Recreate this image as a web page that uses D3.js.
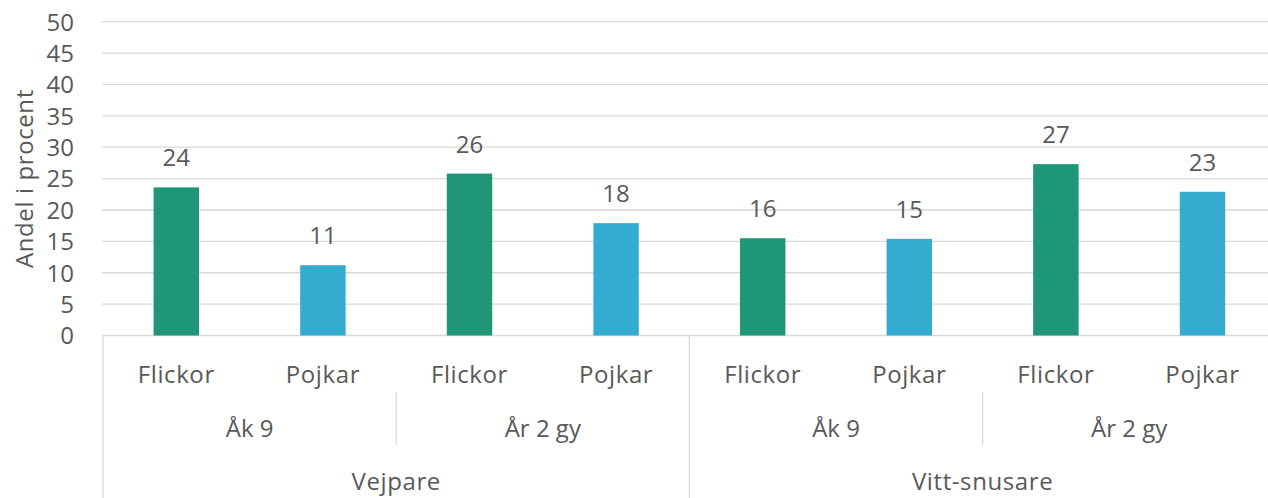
<!DOCTYPE html>
<html><head><meta charset="utf-8">
<script src="https://cdn.jsdelivr.net/npm/d3@7"></script>
<style>
html,body{margin:0;padding:0;background:#fff;}
svg{display:block;font-family:"Open Sans",sans-serif;}
</style></head>
<body><svg id="c" width="1268" height="498"></svg>
<script>
const genders = ["Flickor","Pojkar","Flickor","Pojkar","Flickor","Pojkar","Flickor","Pojkar"];
const grades = ["Åk 9","År 2 gy","Åk 9","År 2 gy"];
const groups = ["Vejpare","Vitt-snusare"];
const values = [23.6, 11.2, 25.8, 17.9, 15.5, 15.4, 27.3, 22.9];
const labels = ["24","11","26","18","16","15","27","23"];
const yTicks = [0,5,10,15,20,25,30,35,40,45,50];
const yTitle = "Andel i procent";
const colors = {Flickor:"#1f9777", Pojkar:"#34acd0"};

const svg = d3.select("#c");
const plotLeft = 103, step = 146.6, n = genders.length;
const plotRight = plotLeft + step*n;
const plotTop = 21.7, plotBase = 335.5;
const textColor = "#595959", gridColor = "#d9d9d9";
const fs = 24, ls = "0.6px";

const y = d3.scaleLinear().domain([0,50]).range([plotBase, plotTop]);
const idx = d3.range(n);
const x = d3.scaleBand().domain(idx).range([plotLeft,plotRight]).paddingInner(0.69).paddingOuter(0.345);
const xs = d3.scaleBand().domain(idx).range([plotLeft,plotRight]).padding(0);

// gridlines
svg.append("g").selectAll("line").data(yTicks).join("line")
  .attr("x1", plotLeft-1).attr("x2", 1268)
  .attr("y1", d=>y(d)).attr("y2", d=>y(d))
  .attr("stroke", gridColor).attr("stroke-width",1.3);

// y tick labels
svg.append("g").selectAll("text").data(yTicks).join("text")
  .attr("x", 74).attr("y", d=>y(d)).attr("dy","0.37em")
  .attr("text-anchor","end").attr("font-size",fs).attr("fill",textColor)
  .text(d=>d);

// y title
svg.append("text")
  .attr("transform", `translate(33,${(plotTop+plotBase)/2}) rotate(-90)`)
  .attr("text-anchor","middle").attr("font-size",fs).attr("fill",textColor)
  .attr("letter-spacing", ls)
  .text(yTitle);

// bars
svg.append("g").selectAll("rect").data(idx).join("rect")
  .attr("x", i=>x(i)).attr("width", x.bandwidth())
  .attr("y", i=>y(values[i])).attr("height", i=>plotBase - y(values[i]))
  .attr("fill", i=>colors[genders[i]]);

// value labels
svg.append("g").selectAll("text").data(idx).join("text")
  .attr("x", i=>x(i)+x.bandwidth()/2).attr("y", i=>y(values[i]) - 21)
  .attr("text-anchor","middle").attr("font-size",fs).attr("fill",textColor)
  .text(i=>labels[i]);

// category axis lines
const cat = svg.append("g").attr("stroke", gridColor).attr("stroke-width",1.3);
[0, n/2, n].forEach(k=>{
  const xx = plotLeft + k*step;
  cat.append("line").attr("x1",xx).attr("x2",xx).attr("y1",plotBase).attr("y2",498);
});
[2, 6].forEach(k=>{
  const xx = plotLeft + k*step;
  cat.append("line").attr("x1",xx).attr("x2",xx).attr("y1",392).attr("y2",445);
});

// level 1 labels
svg.append("g").selectAll("text").data(idx).join("text")
  .attr("x", i=>xs(i)+xs.bandwidth()/2).attr("y", 383)
  .attr("text-anchor","middle").attr("font-size",fs).attr("fill",textColor)
  .attr("letter-spacing", ls)
  .text(i=>genders[i]);
// level 2 labels
svg.append("g").selectAll("text").data(grades).join("text")
  .attr("x", (d,i)=>plotLeft + (i*2+1)*step).attr("y", 437)
  .attr("text-anchor","middle").attr("font-size",fs).attr("fill",textColor)
  .text(d=>d);
// level 3 labels
svg.append("g").selectAll("text").data(groups).join("text")
  .attr("x", (d,i)=>plotLeft + (i*4+2)*step).attr("y", 490)
  .attr("text-anchor","middle").attr("font-size",fs).attr("fill",textColor)
  .attr("letter-spacing", ls)
  .text(d=>d);
</script>
</body></html>
